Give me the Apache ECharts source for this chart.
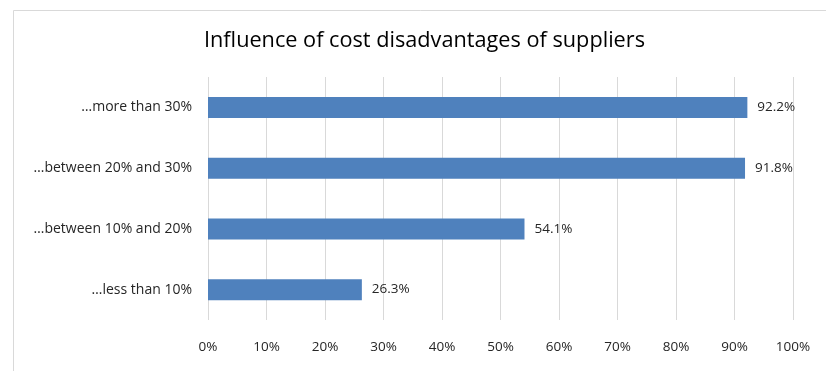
<!DOCTYPE html>
<html>
<head>
<meta charset="utf-8">
<script src="https://cdn.jsdelivr.net/npm/echarts@6/dist/echarts.min.js"></script>
<style>
  html, body { margin: 0; padding: 0; background: #fff; }
  #main { width: 826px; height: 371px; }
</style>
</head>
<body>
<div id="main"></div>
<script>
// categories bottom -> top (category axis draws first item at bottom)
const categories = ['…less than 10%', '…between 10% and 20%', '…between 20% and 30%', '…more than 30%'];
const shares = [26.3, 54.1, 91.8, 92.2];
const tickMin = 0;
const tickMax = 100;
const tickStep = 10;

const myChart = echarts.init(document.getElementById('main'));
const option = {
  backgroundColor: '#ffffff',
  textStyle: { fontFamily: 'Open Sans' },
  title: {
    text: 'Influence of cost disadvantages of suppliers',
    left: 199,
    top: 25,
    textStyle: {
      color: '#000000',
      fontWeight: 'normal',
      fontFamily: 'Open Sans',
      fontSize: 21.7
    }
  },
  // frame of the chart, partly cut off on the right and bottom
  graphic: [{
    type: 'rect',
    left: 11,
    top: 8,
    shape: { width: 900, height: 500 },
    style: { fill: 'none', stroke: '#d9d9d9', lineWidth: 1 },
    silent: true
  }],
  grid: { left: 208, right: 33, top: 77, bottom: 51 },
  xAxis: {
    type: 'value',
    min: tickMin,
    max: tickMax,
    interval: tickStep,
    axisLine: { show: false },
    axisTick: { show: false },
    splitLine: { show: true, lineStyle: { color: '#d9d9d9', width: 1 } },
    axisLabel: {
      formatter: '{value}%',
      color: '#262626',
      fontSize: 13.5,
      margin: 20
    }
  },
  yAxis: {
    type: 'category',
    data: categories,
    axisLine: { show: false },
    axisTick: { show: false },
    axisLabel: { color: '#262626', fontSize: 14, margin: 16 }
  },
  series: [{
    type: 'bar',
    data: shares,
    barWidth: 21,
    itemStyle: { color: '#4f81bd' },
    label: {
      show: true,
      position: 'right',
      distance: 10,
      color: '#262626',
      fontSize: 13.5,
      formatter: function (p) { return p.value.toFixed(1) + '%'; }
    }
  }]
};
myChart.setOption(option);
</script>
</body>
</html>
